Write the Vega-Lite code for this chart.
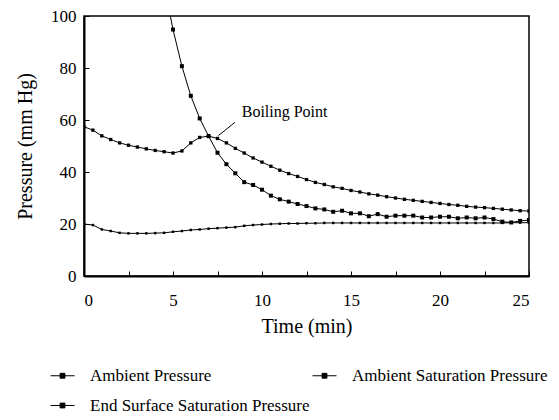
{
  "$schema": "https://vega.github.io/schema/vega-lite/v6.json",
  "width": 445,
  "height": 260,
  "autosize": {"type": "none"},
  "padding": {"left": 84, "top": 16, "right": 30, "bottom": 144},
  "background": "white",
  "config": {
    "font": "Liberation Serif",
    "view": {"stroke": "black", "strokeWidth": 1.5},
    "text": {"font": "Liberation Serif"},
    "legend": {"labelFont": "Liberation Serif"},
    "axis": {
      "grid": false,
      "domainColor": "black",
      "domainWidth": 2,
      "tickColor": "black",
      "tickSize": -5,
      "tickWidth": 1,
      "labelColor": "black",
      "labelFontSize": 17,
      "labelFont": "Liberation Serif",
      "titleColor": "black",
      "titleFont": "Liberation Serif",
      "titleFontSize": 20,
      "titleFontWeight": "normal"
    }
  },
  "data": {
    "values": [
      {"t": 0, "P": 57.4, "s": "Ambient Saturation Pressure"},
      {"t": 0.5, "P": 56.1, "s": "Ambient Saturation Pressure"},
      {"t": 1, "P": 53.9, "s": "Ambient Saturation Pressure"},
      {"t": 1.5, "P": 52.5, "s": "Ambient Saturation Pressure"},
      {"t": 2, "P": 51.2, "s": "Ambient Saturation Pressure"},
      {"t": 2.5, "P": 50.3, "s": "Ambient Saturation Pressure"},
      {"t": 3, "P": 49.6, "s": "Ambient Saturation Pressure"},
      {"t": 3.5, "P": 48.9, "s": "Ambient Saturation Pressure"},
      {"t": 4, "P": 48.3, "s": "Ambient Saturation Pressure"},
      {"t": 4.5, "P": 47.8, "s": "Ambient Saturation Pressure"},
      {"t": 5, "P": 47.3, "s": "Ambient Saturation Pressure"},
      {"t": 5.5, "P": 48.1, "s": "Ambient Saturation Pressure"},
      {"t": 6, "P": 51.2, "s": "Ambient Saturation Pressure"},
      {"t": 6.5, "P": 53.3, "s": "Ambient Saturation Pressure"},
      {"t": 7, "P": 53.8, "s": "Ambient Saturation Pressure"},
      {"t": 7.5, "P": 52.9, "s": "Ambient Saturation Pressure"},
      {"t": 8, "P": 51.2, "s": "Ambient Saturation Pressure"},
      {"t": 8.5, "P": 49.1, "s": "Ambient Saturation Pressure"},
      {"t": 9, "P": 47.3, "s": "Ambient Saturation Pressure"},
      {"t": 9.5, "P": 45.4, "s": "Ambient Saturation Pressure"},
      {"t": 10, "P": 43.8, "s": "Ambient Saturation Pressure"},
      {"t": 10.5, "P": 42.2, "s": "Ambient Saturation Pressure"},
      {"t": 11, "P": 40.7, "s": "Ambient Saturation Pressure"},
      {"t": 11.5, "P": 39.4, "s": "Ambient Saturation Pressure"},
      {"t": 12, "P": 38.3, "s": "Ambient Saturation Pressure"},
      {"t": 12.5, "P": 37.1, "s": "Ambient Saturation Pressure"},
      {"t": 13, "P": 36.0, "s": "Ambient Saturation Pressure"},
      {"t": 13.5, "P": 35.2, "s": "Ambient Saturation Pressure"},
      {"t": 14, "P": 34.3, "s": "Ambient Saturation Pressure"},
      {"t": 14.5, "P": 33.7, "s": "Ambient Saturation Pressure"},
      {"t": 15, "P": 32.9, "s": "Ambient Saturation Pressure"},
      {"t": 15.5, "P": 32.3, "s": "Ambient Saturation Pressure"},
      {"t": 16, "P": 31.6, "s": "Ambient Saturation Pressure"},
      {"t": 16.5, "P": 31.1, "s": "Ambient Saturation Pressure"},
      {"t": 17, "P": 30.5, "s": "Ambient Saturation Pressure"},
      {"t": 17.5, "P": 30.0, "s": "Ambient Saturation Pressure"},
      {"t": 18, "P": 29.5, "s": "Ambient Saturation Pressure"},
      {"t": 18.5, "P": 29.1, "s": "Ambient Saturation Pressure"},
      {"t": 19, "P": 28.7, "s": "Ambient Saturation Pressure"},
      {"t": 19.5, "P": 28.3, "s": "Ambient Saturation Pressure"},
      {"t": 20, "P": 27.9, "s": "Ambient Saturation Pressure"},
      {"t": 20.5, "P": 27.5, "s": "Ambient Saturation Pressure"},
      {"t": 21, "P": 27.2, "s": "Ambient Saturation Pressure"},
      {"t": 21.5, "P": 26.8, "s": "Ambient Saturation Pressure"},
      {"t": 22, "P": 26.5, "s": "Ambient Saturation Pressure"},
      {"t": 22.5, "P": 26.3, "s": "Ambient Saturation Pressure"},
      {"t": 23, "P": 26.0, "s": "Ambient Saturation Pressure"},
      {"t": 23.5, "P": 25.7, "s": "Ambient Saturation Pressure"},
      {"t": 24, "P": 25.4, "s": "Ambient Saturation Pressure"},
      {"t": 24.5, "P": 25.1, "s": "Ambient Saturation Pressure"},
      {"t": 25, "P": 25.0, "s": "Ambient Saturation Pressure"},
      {"t": 4.5, "P": 112, "s": "Ambient Pressure"},
      {"t": 5, "P": 94.8, "s": "Ambient Pressure"},
      {"t": 5.5, "P": 80.7, "s": "Ambient Pressure"},
      {"t": 6, "P": 69.3, "s": "Ambient Pressure"},
      {"t": 6.5, "P": 60.6, "s": "Ambient Pressure"},
      {"t": 7, "P": 53.8, "s": "Ambient Pressure"},
      {"t": 7.5, "P": 47.4, "s": "Ambient Pressure"},
      {"t": 8, "P": 43.0, "s": "Ambient Pressure"},
      {"t": 8.5, "P": 39.5, "s": "Ambient Pressure"},
      {"t": 9, "P": 36.1, "s": "Ambient Pressure"},
      {"t": 9.5, "P": 35.0, "s": "Ambient Pressure"},
      {"t": 10, "P": 33.2, "s": "Ambient Pressure"},
      {"t": 10.5, "P": 30.9, "s": "Ambient Pressure"},
      {"t": 11, "P": 29.5, "s": "Ambient Pressure"},
      {"t": 11.5, "P": 28.6, "s": "Ambient Pressure"},
      {"t": 12, "P": 27.7, "s": "Ambient Pressure"},
      {"t": 12.5, "P": 26.9, "s": "Ambient Pressure"},
      {"t": 13, "P": 26.0, "s": "Ambient Pressure"},
      {"t": 13.5, "P": 25.6, "s": "Ambient Pressure"},
      {"t": 14, "P": 24.7, "s": "Ambient Pressure"},
      {"t": 14.5, "P": 25.1, "s": "Ambient Pressure"},
      {"t": 15, "P": 24.1, "s": "Ambient Pressure"},
      {"t": 15.5, "P": 24.1, "s": "Ambient Pressure"},
      {"t": 16, "P": 23.0, "s": "Ambient Pressure"},
      {"t": 16.5, "P": 23.8, "s": "Ambient Pressure"},
      {"t": 17, "P": 22.8, "s": "Ambient Pressure"},
      {"t": 17.5, "P": 23.2, "s": "Ambient Pressure"},
      {"t": 18, "P": 23.2, "s": "Ambient Pressure"},
      {"t": 18.5, "P": 23.2, "s": "Ambient Pressure"},
      {"t": 19, "P": 22.5, "s": "Ambient Pressure"},
      {"t": 19.5, "P": 22.5, "s": "Ambient Pressure"},
      {"t": 20, "P": 22.8, "s": "Ambient Pressure"},
      {"t": 20.5, "P": 22.8, "s": "Ambient Pressure"},
      {"t": 21, "P": 22.2, "s": "Ambient Pressure"},
      {"t": 21.5, "P": 22.5, "s": "Ambient Pressure"},
      {"t": 22, "P": 22.2, "s": "Ambient Pressure"},
      {"t": 22.5, "P": 22.5, "s": "Ambient Pressure"},
      {"t": 23, "P": 21.9, "s": "Ambient Pressure"},
      {"t": 23.5, "P": 20.9, "s": "Ambient Pressure"},
      {"t": 24, "P": 20.6, "s": "Ambient Pressure"},
      {"t": 24.5, "P": 21.2, "s": "Ambient Pressure"},
      {"t": 25, "P": 21.5, "s": "Ambient Pressure"},
      {"t": 0, "P": 20.0, "s": "End Surface Saturation Pressure"},
      {"t": 0.5, "P": 19.6, "s": "End Surface Saturation Pressure"},
      {"t": 1, "P": 17.9, "s": "End Surface Saturation Pressure"},
      {"t": 1.5, "P": 17.3, "s": "End Surface Saturation Pressure"},
      {"t": 2, "P": 16.6, "s": "End Surface Saturation Pressure"},
      {"t": 2.5, "P": 16.4, "s": "End Surface Saturation Pressure"},
      {"t": 3, "P": 16.4, "s": "End Surface Saturation Pressure"},
      {"t": 3.5, "P": 16.4, "s": "End Surface Saturation Pressure"},
      {"t": 4, "P": 16.5, "s": "End Surface Saturation Pressure"},
      {"t": 4.5, "P": 16.6, "s": "End Surface Saturation Pressure"},
      {"t": 5, "P": 17.0, "s": "End Surface Saturation Pressure"},
      {"t": 5.5, "P": 17.3, "s": "End Surface Saturation Pressure"},
      {"t": 6, "P": 17.7, "s": "End Surface Saturation Pressure"},
      {"t": 6.5, "P": 17.9, "s": "End Surface Saturation Pressure"},
      {"t": 7, "P": 18.2, "s": "End Surface Saturation Pressure"},
      {"t": 7.5, "P": 18.4, "s": "End Surface Saturation Pressure"},
      {"t": 8, "P": 18.6, "s": "End Surface Saturation Pressure"},
      {"t": 8.5, "P": 18.8, "s": "End Surface Saturation Pressure"},
      {"t": 9, "P": 19.3, "s": "End Surface Saturation Pressure"},
      {"t": 9.5, "P": 19.6, "s": "End Surface Saturation Pressure"},
      {"t": 10, "P": 19.8, "s": "End Surface Saturation Pressure"},
      {"t": 10.5, "P": 20.0, "s": "End Surface Saturation Pressure"},
      {"t": 11, "P": 20.1, "s": "End Surface Saturation Pressure"},
      {"t": 11.5, "P": 20.2, "s": "End Surface Saturation Pressure"},
      {"t": 12, "P": 20.2, "s": "End Surface Saturation Pressure"},
      {"t": 12.5, "P": 20.3, "s": "End Surface Saturation Pressure"},
      {"t": 13, "P": 20.3, "s": "End Surface Saturation Pressure"},
      {"t": 13.5, "P": 20.4, "s": "End Surface Saturation Pressure"},
      {"t": 14, "P": 20.4, "s": "End Surface Saturation Pressure"},
      {"t": 14.5, "P": 20.4, "s": "End Surface Saturation Pressure"},
      {"t": 15, "P": 20.4, "s": "End Surface Saturation Pressure"},
      {"t": 15.5, "P": 20.4, "s": "End Surface Saturation Pressure"},
      {"t": 16, "P": 20.4, "s": "End Surface Saturation Pressure"},
      {"t": 16.5, "P": 20.4, "s": "End Surface Saturation Pressure"},
      {"t": 17, "P": 20.4, "s": "End Surface Saturation Pressure"},
      {"t": 17.5, "P": 20.4, "s": "End Surface Saturation Pressure"},
      {"t": 18, "P": 20.4, "s": "End Surface Saturation Pressure"},
      {"t": 18.5, "P": 20.4, "s": "End Surface Saturation Pressure"},
      {"t": 19, "P": 20.4, "s": "End Surface Saturation Pressure"},
      {"t": 19.5, "P": 20.4, "s": "End Surface Saturation Pressure"},
      {"t": 20, "P": 20.4, "s": "End Surface Saturation Pressure"},
      {"t": 20.5, "P": 20.4, "s": "End Surface Saturation Pressure"},
      {"t": 21, "P": 20.4, "s": "End Surface Saturation Pressure"},
      {"t": 21.5, "P": 20.4, "s": "End Surface Saturation Pressure"},
      {"t": 22, "P": 20.4, "s": "End Surface Saturation Pressure"},
      {"t": 22.5, "P": 20.4, "s": "End Surface Saturation Pressure"},
      {"t": 23, "P": 20.4, "s": "End Surface Saturation Pressure"},
      {"t": 23.5, "P": 20.4, "s": "End Surface Saturation Pressure"},
      {"t": 24, "P": 20.5, "s": "End Surface Saturation Pressure"},
      {"t": 24.5, "P": 20.5, "s": "End Surface Saturation Pressure"},
      {"t": 25, "P": 20.5, "s": "End Surface Saturation Pressure"}
    ]
  },
  "layer": [
    {
      "mark": {"type": "line", "clip": true, "strokeWidth": 1},
      "encoding": {
        "x": {
          "field": "t", "type": "quantitative",
          "scale": {"domain": [0, 25], "nice": false},
          "axis": {
            "title": "Time (min)",
            "values": [0, 2.5, 5, 7.5, 10, 12.5, 15, 17.5, 20, 22.5, 25],
            "labelExpr": "datum.value % 5 === 0 ? datum.label : ''",
            "labelFont": "Liberation Serif",
            "labelFontSize": 17,
            "labelPadding": 21,
            "titlePadding": 8
          }
        },
        "y": {
          "field": "P", "type": "quantitative",
          "scale": {"domain": [0, 100], "nice": false},
          "axis": {
            "title": "Pressure (mm Hg)",
            "values": [0, 10, 20, 30, 40, 50, 60, 70, 80, 90, 100],
            "labelExpr": "datum.value % 20 === 0 ? datum.label : ''",
            "labelFont": "Liberation Serif",
            "labelFontSize": 17,
            "labelPadding": 13,
            "titlePadding": 15
          }
        },
        "color": {
          "field": "s", "type": "nominal",
          "scale": {"range": ["black", "black", "black"]},
          "legend": {
            "title": null,
            "orient": "none",
            "direction": "horizontal",
            "legendX": -34,
            "legendY": 347,
            "columns": 2,
            "columnPadding": 0,
            "rowPadding": 9,
            "symbolType": "M-1,0H1M-0.2,-0.2H0.2V0.2H-0.2Z",
            "symbolSize": 576,
            "symbolStrokeWidth": 1,
            "labelFontSize": 17,
            "labelFont": "Liberation Serif",
            "labelColor": "black",
            "labelOffset": 15,
            "labelLimit": 0,
            "encode": {"symbols": {"update": {"fill": {"value": "black"}, "stroke": {"value": "black"}}}}
          }
        }
      }
    },
    {
      "mark": {"type": "point", "shape": "square", "filled": true, "clip": true, "opacity": 1},
      "encoding": {
        "x": {"field": "t", "type": "quantitative"},
        "y": {"field": "P", "type": "quantitative"},
        "size": {
          "field": "s", "type": "nominal",
          "scale": {"domain": ["Ambient Pressure", "Ambient Saturation Pressure", "End Surface Saturation Pressure"], "range": [16, 6, 6]},
          "legend": null
        },
        "color": {"value": "black"}
      }
    },
    {
      "data": {"values": [{"t": 7.55, "P": 54.0, "t2": 8.48, "P2": 59.1}]},
      "mark": {"type": "rule", "color": "black", "strokeWidth": 1},
      "encoding": {
        "x": {"field": "t", "type": "quantitative"},
        "y": {"field": "P", "type": "quantitative"},
        "x2": {"field": "t2"},
        "y2": {"field": "P2"}
      }
    },
    {
      "data": {"values": [{"t": 8.86, "P": 63.2, "label": "Boiling Point"}]},
      "mark": {"type": "text", "align": "left", "baseline": "middle", "fontSize": 16, "font": "Liberation Serif", "color": "black"},
      "encoding": {
        "x": {"field": "t", "type": "quantitative"},
        "y": {"field": "P", "type": "quantitative"},
        "text": {"field": "label"}
      }
    }
  ]
}
